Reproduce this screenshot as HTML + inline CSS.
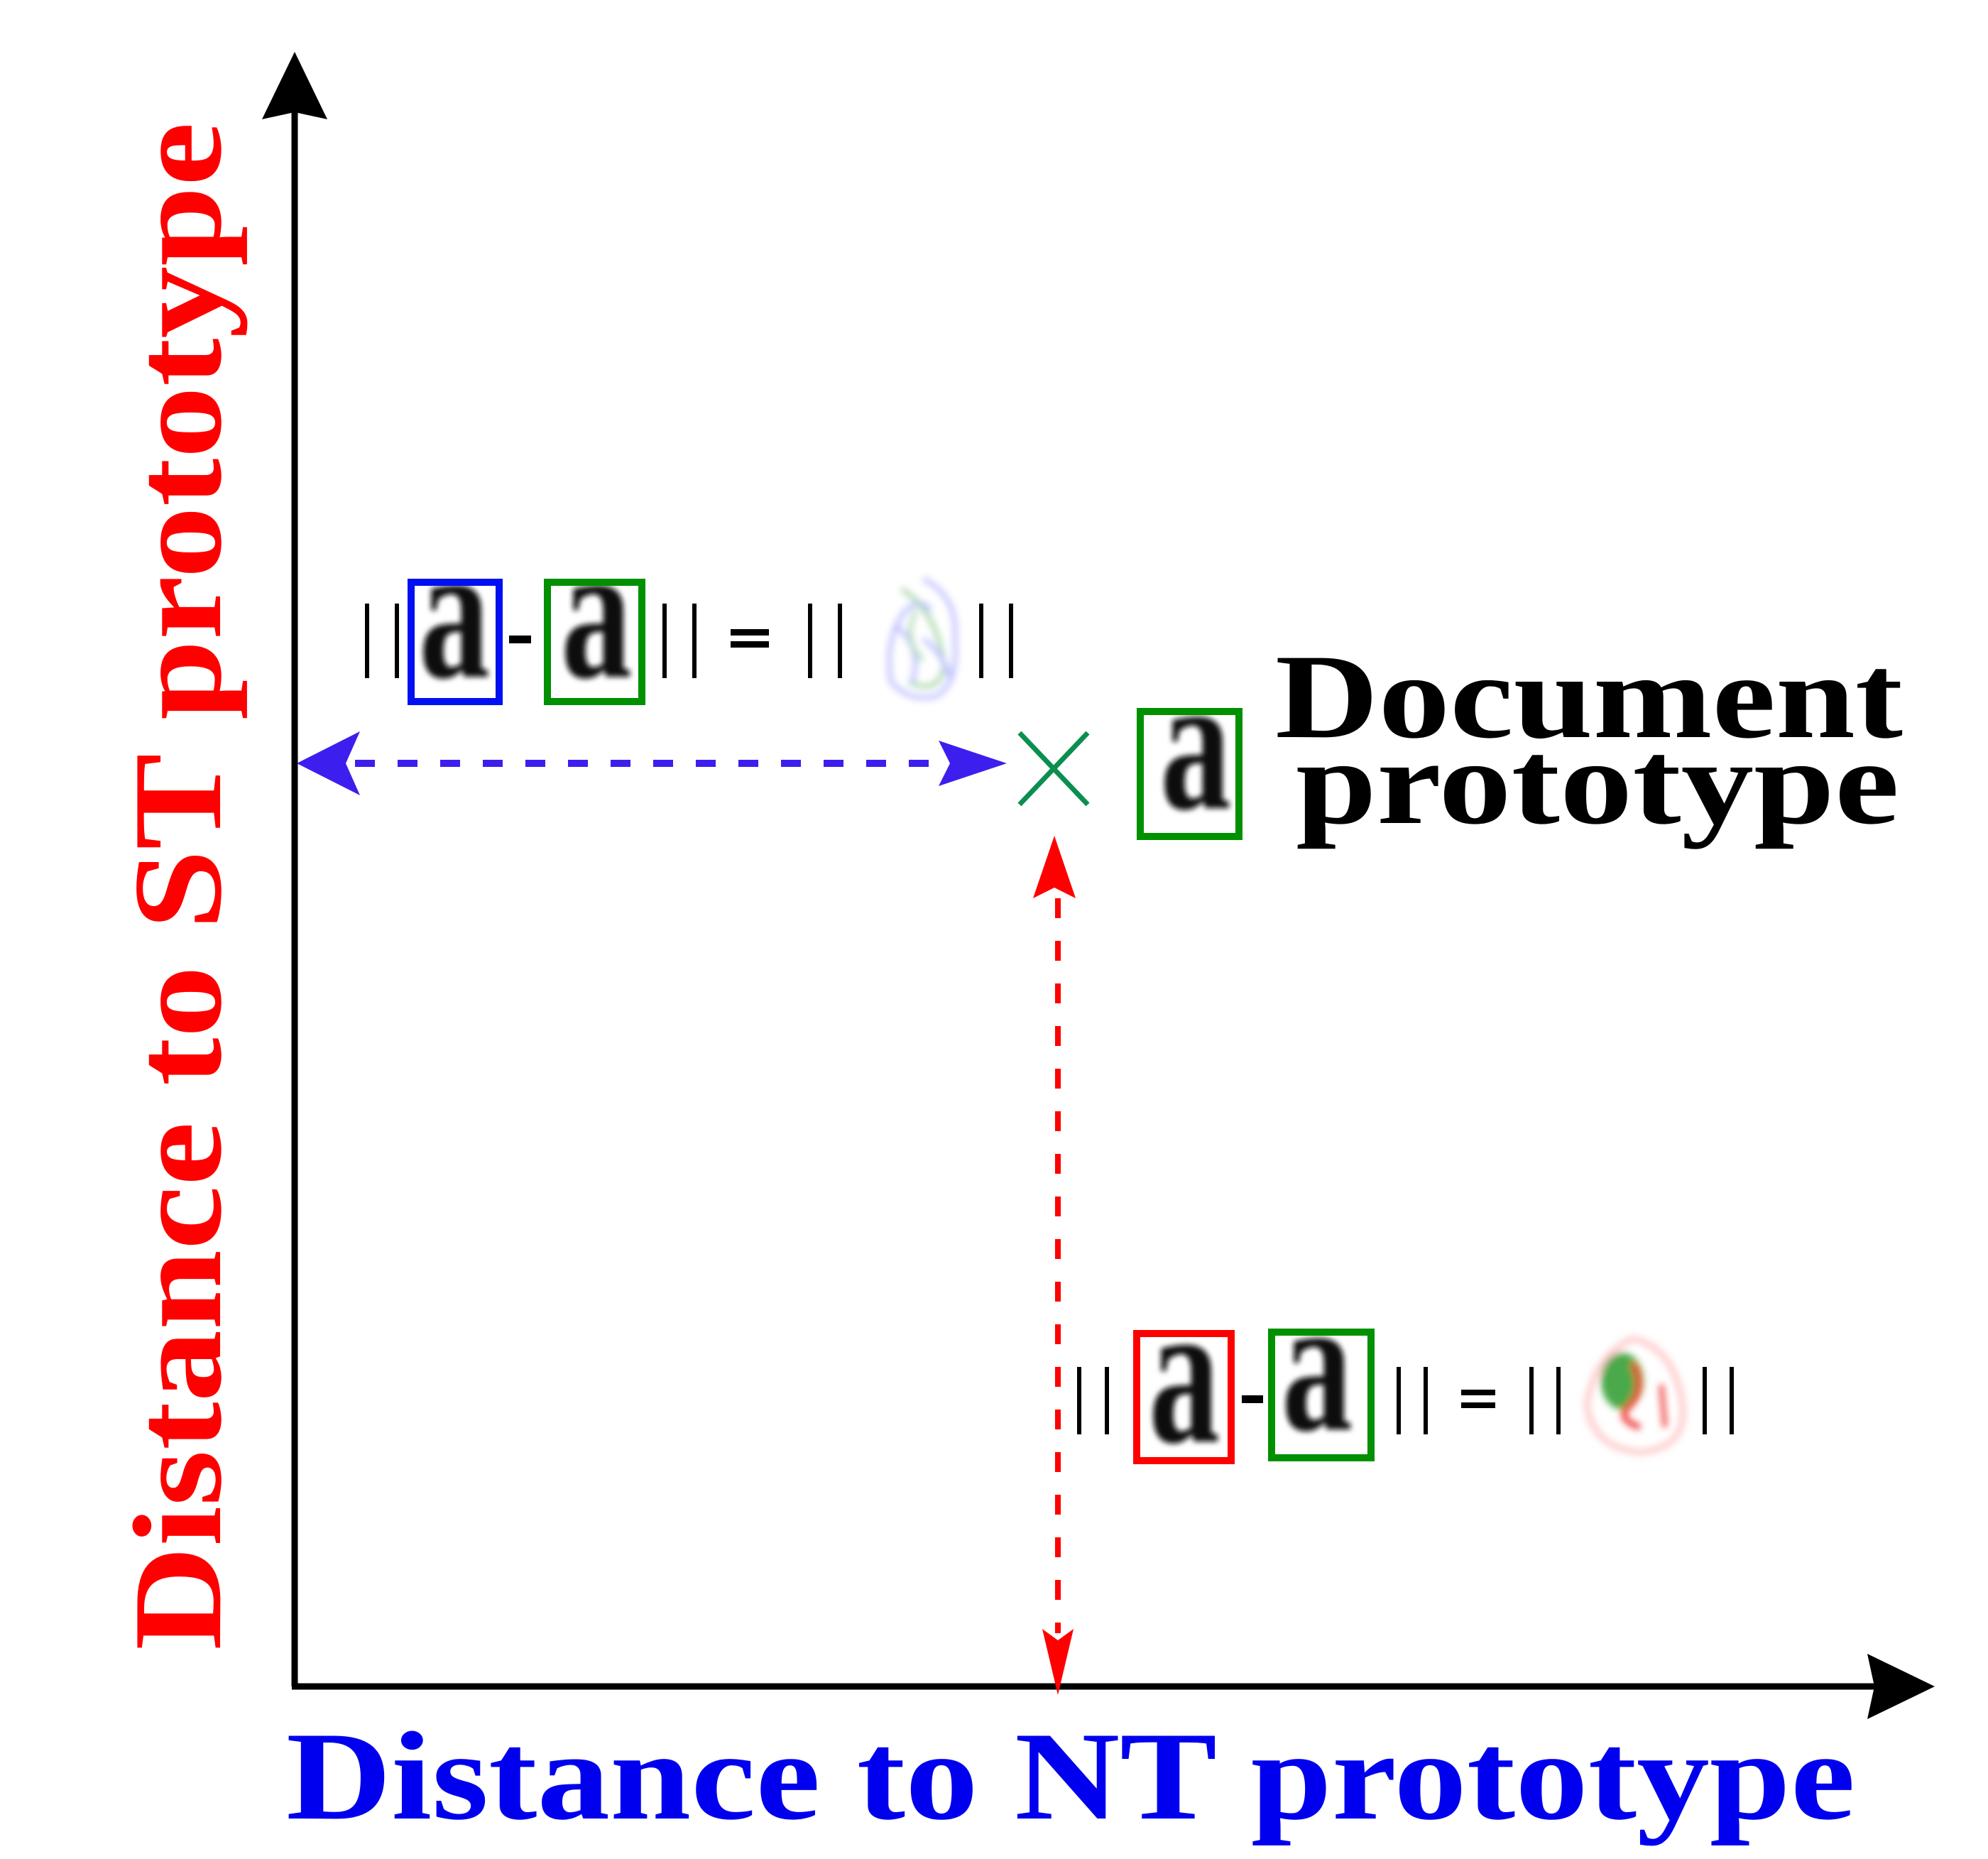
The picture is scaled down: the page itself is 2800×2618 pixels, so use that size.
<!DOCTYPE html>
<html><head><meta charset="utf-8"><style>html,body{margin:0;padding:0;background:#fff}svg{display:block}</style></head>
<body>
<svg width="2800" height="2618" viewBox="0 0 2800 2618" xmlns="http://www.w3.org/2000/svg">
<defs>
<filter id="bl" x="-30%" y="-30%" width="160%" height="160%"><feGaussianBlur stdDeviation="4"/></filter>
<filter id="bl2" x="-30%" y="-30%" width="160%" height="160%"><feGaussianBlur stdDeviation="5"/></filter>
</defs>
<rect width="2800" height="2618" fill="#fff"/>
<line x1="415" y1="2375" x2="415" y2="150" stroke="#000" stroke-width="9"/>
<line x1="411" y1="2375" x2="2650" y2="2375" stroke="#000" stroke-width="9"/>
<path d="M415 73 L461 168 L415 158 L369 168 Z" fill="#000"/>
<path d="M2725 2375 L2630 2329 L2640 2375 L2630 2421 Z" fill="#000"/>
<line x1="500" y1="1075" x2="1335" y2="1075" stroke="#3c1eee" stroke-width="10" stroke-dasharray="28 32"/>
<path d="M418 1075 L507 1030 L487 1075 L507 1120 Z" fill="#3c1eee"/>
<path d="M1418 1075 L1322 1043 L1338 1075 L1322 1107 Z" fill="#3c1eee"/>
<line x1="1490" y1="1265" x2="1490" y2="2300" stroke="#f00" stroke-width="8" stroke-dasharray="28 32"/>
<path d="M1485 1177 L1455 1265 L1485 1250 L1515 1265 Z" fill="#f00"/>
<path d="M1490 2387 L1468 2294 L1490 2310 L1512 2294 Z" fill="#f00"/>
<line x1="1436" y1="1032" x2="1532" y2="1133" stroke="#0b8f4f" stroke-width="7"/>
<line x1="1532" y1="1032" x2="1436" y2="1133" stroke="#0b8f4f" stroke-width="7"/>
<g fill="#000">
<rect x="514" y="850" width="6" height="105"/><rect x="556" y="850" width="6" height="105"/>
<rect x="717" y="895" width="31" height="11"/>
<rect x="933" y="850" width="6" height="105"/><rect x="975" y="850" width="6" height="105"/>
<rect x="1029" y="886" width="54" height="9"/><rect x="1029" y="903" width="54" height="9"/>
<rect x="1138" y="850" width="6" height="105"/><rect x="1180" y="850" width="6" height="105"/>
<rect x="1379" y="850" width="6" height="105"/><rect x="1421" y="850" width="6" height="105"/>
</g>
<g font-family="Liberation Serif, serif" font-weight="bold" font-size="200" text-anchor="middle" fill="#111" filter="url(#bl)">
<text transform="translate(640 953) scale(1 1.37)">a</text>
<text transform="translate(840 953) scale(1 1.37)">a</text>
<text transform="translate(1684 1138) scale(1 1.37)">a</text>
<text transform="translate(1668 2030) scale(1 1.45)">a</text>
<text transform="translate(1855 2013) scale(1 1.37)">a</text>
</g>
<rect x="579" y="820" width="124" height="168" fill="none" stroke="#0010f0" stroke-width="10"/>
<rect x="771" y="820" width="133" height="168" fill="none" stroke="#009000" stroke-width="10"/>
<rect x="1606" y="1002" width="139" height="176" fill="none" stroke="#009000" stroke-width="10"/>
<rect x="1601" y="1878" width="133" height="179" fill="none" stroke="#f00" stroke-width="10"/>
<rect x="1791" y="1876" width="140" height="177" fill="none" stroke="#009000" stroke-width="10"/>
<g fill="none" stroke-width="6" filter="url(#bl2)" opacity="0.5">
<path d="M1300 815 Q1350 840 1345 900 Q1350 960 1320 980 Q1280 990 1255 960 Q1245 900 1275 860 Q1300 840 1310 860" stroke="#7a7aff"/>
<path d="M1270 830 Q1320 860 1330 940 Q1320 980 1280 960" stroke="#4ea84e"/>
<path d="M1260 880 Q1300 910 1285 960 M1300 900 Q1330 920 1340 960" stroke="#7a7aff"/>
<path d="M1290 860 Q1270 900 1300 930" stroke="#6ab86a"/>
</g>
<g fill="#000">
<rect x="1517" y="1925" width="6" height="95"/><rect x="1556" y="1925" width="6" height="95"/>
<rect x="1749" y="1965" width="30" height="11"/>
<rect x="1967" y="1925" width="6" height="95"/><rect x="2005" y="1925" width="6" height="95"/>
<rect x="2058" y="1957" width="48" height="8"/><rect x="2058" y="1975" width="48" height="8"/>
<rect x="2154" y="1925" width="6" height="95"/><rect x="2192" y="1925" width="6" height="95"/>
<rect x="2398" y="1925" width="6" height="95"/><rect x="2436" y="1925" width="6" height="95"/>
</g>
<g filter="url(#bl2)">
<path d="M2300 1885 Q2360 1900 2370 1980 Q2375 2040 2310 2045 Q2245 2040 2235 1980 Q2245 1910 2300 1885" fill="none" stroke="#ffb8b8" stroke-width="9" opacity="0.7"/>
<ellipse cx="2285" cy="1945" rx="30" ry="40" fill="#2a9a2a" opacity="0.85"/>
<path d="M2300 1920 Q2320 1960 2290 1985 Q2280 2000 2310 2010" fill="none" stroke="#f03030" stroke-width="8"/>
<path d="M2340 1950 L2345 2010" fill="none" stroke="#f05050" stroke-width="7"/>
</g>
<g font-family="Liberation Serif, serif" font-weight="bold">
<text x="1796" y="1038" font-size="170" textLength="884" lengthAdjust="spacingAndGlyphs" fill="#000">Document</text>
<text x="1825" y="1159" font-size="170" textLength="850" lengthAdjust="spacingAndGlyphs" fill="#000">prototype</text>
<text x="403" y="2561" font-size="178" textLength="2210" lengthAdjust="spacingAndGlyphs" fill="#0000ee">Distance to NT prototype</text>
<text transform="translate(310 2324) rotate(-90)" font-size="178" textLength="2152" lengthAdjust="spacingAndGlyphs" fill="#f00">Distance to ST prototype</text>
</g>
</svg>
</body></html>
